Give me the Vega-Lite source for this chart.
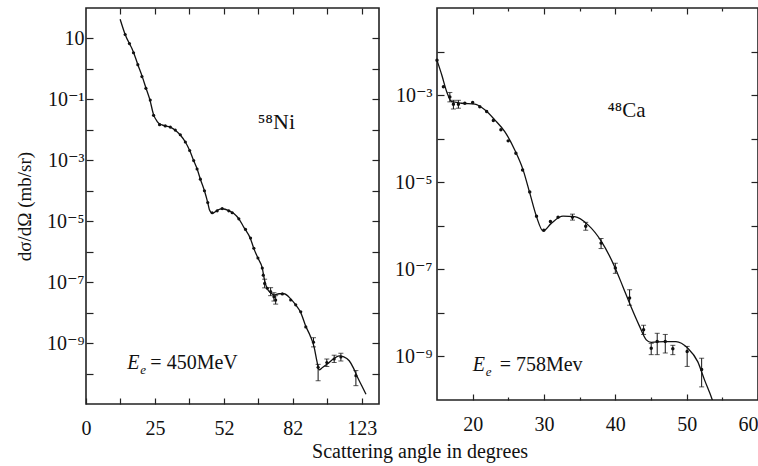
{
  "$schema": "https://vega.github.io/schema/vega-lite/v6.json",
  "background": "white",
  "padding": {"left": 14, "top": 6, "right": 0, "bottom": 2},
  "config": {
    "font": "Liberation Serif, Times New Roman, DejaVu Serif, serif",
    "view": {"stroke": "#222", "strokeWidth": 1.6},
    "axis": {"domain": false, "grid": false, "tickColor": "#222", "tickSize": -7, "tickWidth": 1.2,
      "labelFont": "Liberation Serif, Times New Roman, DejaVu Serif, serif", "labelFontSize": 20, "labelColor": "#111", "labelOverlap": false, "labelFlush": false,
      "titleFont": "Liberation Serif, Times New Roman, DejaVu Serif, serif", "titleFontSize": 19, "titleFontWeight": "normal", "titleColor": "#111"}
  },
  "title": {"text": "Scattering angle in degrees", "orient": "bottom", "anchor": "middle", "font": "Liberation Serif, Times New Roman, DejaVu Serif, serif", "fontSize": 20, "fontWeight": "normal", "color": "#111", "offset": 3, "dx": 33},
  "datasets": {
    "ni_curve": [
      {"q":0.495,"xs":42.7},{"q":0.568,"xs":13.5},{"q":0.689,"xs":3.55},{"q":0.752,"xs":1.38},{"q":0.811,"xs":0.603},
      {"q":0.869,"xs":0.24},{"q":0.925,"xs":0.1},{"q":0.98,"xs":0.0316},{"q":1.03,"xs":0.0191},{"q":1.102,"xs":0.0145},
      {"q":1.223,"xs":0.0123},{"q":1.295,"xs":0.00977},{"q":1.368,"xs":0.00676},{"q":1.441,"xs":0.00398},{"q":1.504,"xs":0.00209},
      {"q":1.562,"xs":9.77e-4},{"q":1.611,"xs":5.25e-4},{"q":1.659,"xs":2.4e-4},{"q":1.718,"xs":1.0e-4},{"q":1.766,"xs":4.07e-5},
      {"q":1.79,"xs":2.4e-5},{"q":1.835,"xs":1.82e-5},{"q":1.903,"xs":2.29e-5},{"q":1.975,"xs":2.57e-5},{"q":2.071,"xs":2.24e-5},
      {"q":2.144,"xs":1.78e-5},{"q":2.217,"xs":1.2e-5},{"q":2.29,"xs":6.31e-6},{"q":2.387,"xs":2.63e-6},{"q":2.435,"xs":1.26e-6},
      {"q":2.494,"xs":6.17e-7},{"q":2.557,"xs":2.88e-7},{"q":2.591,"xs":1.12e-7},{"q":2.63,"xs":6.03e-8},{"q":2.678,"xs":4.47e-8},
      {"q":2.726,"xs":3.8e-8},{"q":2.8,"xs":4.17e-8},{"q":2.872,"xs":4.17e-8},{"q":2.969,"xs":2.82e-8},{"q":3.042,"xs":1.78e-8},
      {"q":3.115,"xs":1.0e-8},{"q":3.188,"xs":3.55e-9},{"q":3.25,"xs":1.78e-9},{"q":3.309,"xs":7.41e-10},{"q":3.35,"xs":2.51e-10},
      {"q":3.381,"xs":1.32e-10},{"q":3.43,"xs":1.58e-10},{"q":3.504,"xs":2.09e-10},{"q":3.6,"xs":3.16e-10},{"q":3.672,"xs":3.8e-10},
      {"q":3.74,"xs":3.55e-10},{"q":3.818,"xs":2.63e-10},{"q":3.88,"xs":1.51e-10},{"q":3.94,"xs":7.41e-11},{"q":4.0,"xs":3.98e-11},
      {"q":4.061,"xs":2.09e-11}
    ],
    "ni_pts": [
      {"q":0.568,"xs":13.5},{"q":0.63,"xs":6.8},{"q":0.689,"xs":3.4},{"q":0.752,"xs":1.38},{"q":0.811,"xs":0.56},
      {"q":0.869,"xs":0.23},{"q":0.932,"xs":0.095},{"q":0.98,"xs":0.03},{"q":1.067,"xs":0.0148},{"q":1.15,"xs":0.0135},
      {"q":1.223,"xs":0.0123},{"q":1.295,"xs":0.0098},{"q":1.368,"xs":0.0069},{"q":1.441,"xs":0.004},{"q":1.504,"xs":0.0021},
      {"q":1.562,"xs":9.8e-4},{"q":1.611,"xs":5.2e-4},{"q":1.659,"xs":2.4e-4},{"q":1.718,"xs":1.0e-4},{"q":1.766,"xs":4.1e-5},
      {"q":1.83,"xs":1.9e-5},{"q":1.903,"xs":2.2e-5},{"q":1.975,"xs":2.6e-5},{"q":2.071,"xs":2.2e-5},{"q":2.121,"xs":1.9e-5},
      {"q":2.217,"xs":1.2e-5},{"q":2.314,"xs":5.4e-6},{"q":2.387,"xs":2.8e-6},{"q":2.435,"xs":1.3e-6},{"q":2.494,"xs":6.2e-7},
      {"q":2.557,"xs":2.9e-7},{"q":2.571,"xs":1.7e-7},{"q":2.591,"xs":9.1e-8},{"q":2.63,"xs":6.3e-8},{"q":2.678,"xs":4.9e-8},
      {"q":2.726,"xs":3.3e-8},{"q":2.751,"xs":2.6e-8},{"q":2.848,"xs":4.1e-8},{"q":2.969,"xs":2.6e-8},{"q":3.042,"xs":1.8e-8},
      {"q":3.115,"xs":1.07e-8},{"q":3.188,"xs":3.4e-9},{"q":3.3,"xs":1.07e-9},{"q":3.367,"xs":1.6e-10},{"q":3.493,"xs":2.3e-10},
      {"q":3.6,"xs":3.0e-10},{"q":3.697,"xs":3.5e-10},{"q":3.915,"xs":8.5e-11}
    ],
    "ni_err": [
      {"q":2.591,"lo":6.5e-8,"hi":1.25e-7},{"q":2.678,"lo":3.6e-8,"hi":6.6e-8},{"q":2.726,"lo":2.4e-8,"hi":4.5e-8},
      {"q":2.751,"lo":1.9e-8,"hi":3.6e-8},{"q":3.3,"lo":7.5e-10,"hi":1.5e-9},{"q":3.367,"lo":5.8e-11,"hi":2.0e-10},
      {"q":3.493,"lo":1.7e-10,"hi":3.0e-10},{"q":3.6,"lo":2.3e-10,"hi":4.0e-10},{"q":3.697,"lo":2.6e-10,"hi":4.6e-10},
      {"q":3.915,"lo":4.0e-11,"hi":1.25e-10}
    ],
    "ni_note": [{"q":2.49,"xs":0.0105,"label":"⁵⁸Ni"}],
    "ni_energy": [{"q":0.6,"xs":1.45e-10,"e":"E","sub":"e","rest":"= 450MeV"}],
    "ca_curve": [
      {"angle":15.0,"xs":6.3e-3},{"angle":15.67,"xs":2.9e-3},{"angle":16.36,"xs":1.2e-3},{"angle":17.06,"xs":7.1e-4},
      {"angle":17.8,"xs":6.8e-4},{"angle":18.46,"xs":6.5e-4},{"angle":20.3,"xs":6.2e-4},{"angle":21.7,"xs":4.6e-4},
      {"angle":23.1,"xs":2.7e-4},{"angle":24.5,"xs":1.45e-4},{"angle":25.9,"xs":5.5e-5},{"angle":27.08,"xs":1.9e-5},
      {"angle":28.01,"xs":5.6e-6},{"angle":28.95,"xs":1.62e-6},{"angle":29.87,"xs":7.6e-7},{"angle":31.05,"xs":1.15e-6},
      {"angle":32.67,"xs":1.66e-6},{"angle":34.3,"xs":1.62e-6},{"angle":36.17,"xs":1.05e-6},{"angle":38.04,"xs":4.4e-7},
      {"angle":39.9,"xs":1.15e-7},{"angle":41.06,"xs":4.0e-8},{"angle":42.2,"xs":1.38e-8},{"angle":43.4,"xs":4.9e-9},
      {"angle":44.34,"xs":2.4e-9},{"angle":45.03,"xs":2.1e-9},{"angle":46.9,"xs":2.2e-9},{"angle":48.5,"xs":2.2e-9},
      {"angle":50.15,"xs":1.55e-9},{"angle":51.55,"xs":7.6e-10},{"angle":52.5,"xs":2.9e-10},{"angle":53.6,"xs":1.0e-10},
      {"angle":54.0,"xs":6.0e-11}
    ],
    "ca_pts": [
      {"angle":15.0,"xs":6.3e-3},{"angle":15.9,"xs":1.55e-3},{"angle":16.8,"xs":9.1e-4},{"angle":17.3,"xs":6.2e-4},
      {"angle":18.0,"xs":6.2e-4},{"angle":18.9,"xs":6.5e-4},{"angle":20.0,"xs":6.8e-4},{"angle":21.0,"xs":5.4e-4},
      {"angle":21.96,"xs":4.2e-4},{"angle":22.9,"xs":2.6e-4},{"angle":23.96,"xs":1.6e-4},{"angle":24.98,"xs":8.9e-5},
      {"angle":26.06,"xs":4.6e-5},{"angle":27.0,"xs":1.9e-5},{"angle":28.0,"xs":6.0e-6},{"angle":28.95,"xs":1.66e-6},
      {"angle":29.97,"xs":7.9e-7},{"angle":30.9,"xs":1.26e-6},{"angle":31.97,"xs":1.58e-6},{"angle":33.99,"xs":1.58e-6},
      {"angle":35.85,"xs":9.8e-7},{"angle":38.0,"xs":4.0e-7},{"angle":40.0,"xs":1.07e-7},{"angle":42.0,"xs":2.2e-8},
      {"angle":43.96,"xs":4.1e-9},{"angle":45.03,"xs":1.55e-9},{"angle":45.87,"xs":2.2e-9},{"angle":47.0,"xs":2.2e-9},
      {"angle":48.06,"xs":1.5e-9},{"angle":50.07,"xs":1.3e-9},{"angle":52.1,"xs":5.0e-10}
    ],
    "ca_err": [
      {"angle":16.8,"lo":7.0e-4,"hi":1.15e-3},{"angle":17.3,"lo":4.8e-4,"hi":7.6e-4},{"angle":18.0,"lo":5.0e-4,"hi":7.6e-4},
      {"angle":33.99,"lo":1.35e-6,"hi":1.85e-6},{"angle":35.85,"lo":7.9e-7,"hi":1.2e-6},{"angle":38.0,"lo":3.0e-7,"hi":5.1e-7},
      {"angle":40.0,"lo":8.1e-8,"hi":1.38e-7},{"angle":42.0,"lo":1.5e-8,"hi":3.4e-8},{"angle":43.96,"lo":3.2e-9,"hi":5.2e-9},
      {"angle":45.03,"lo":1.1e-9,"hi":2.0e-9},{"angle":45.87,"lo":1.1e-9,"hi":3.4e-9},{"angle":47.0,"lo":1.2e-9,"hi":3.2e-9},
      {"angle":48.06,"lo":1.1e-9,"hi":1.8e-9},{"angle":50.07,"lo":5.9e-10,"hi":1.7e-9},{"angle":52.1,"lo":2.0e-10,"hi":9.1e-10}
    ],
    "ca_note": [{"angle":38.9,"xs":3.2e-4,"label":"⁴⁸Ca"}],
    "ca_energy": [{"angle":20.0,"xs":4.6e-10,"e":"E","sub":"e","rest":"= 758Mev"}]
  },
  "spacing": 12,
  "hconcat": [
    {
      "width": 293,
      "height": 396,
      "layer": [
        {
          "data": {"name": "ni_curve"},
          "mark": {"type": "line", "interpolate": "monotone", "color": "#111", "strokeWidth": 1.3, "clip": true},
          "encoding": {
            "x": {"field": "q", "type": "quantitative", "scale": {"domain": [0, 4.25], "nice": false, "zero": false},
              "axis": {"orient": "bottom", "title": null, "values": [0, 0.5, 1, 1.5, 2, 2.5, 3, 3.5, 4], "labelPadding": 20, "tickSize": -6,
                "labelExpr": "datum.value == 0 ? '0' : datum.value == 1 ? '25' : datum.value == 2 ? '52' : datum.value == 3 ? '82' : datum.value == 4 ? '123' : ''"}},
            "y": {"field": "xs", "type": "quantitative", "scale": {"type": "log", "domain": [1e-11, 100], "nice": false},
              "axis": {"orient": "left", "title": "dσ/dΩ (mb/sr)", "titlePadding": 12,
                "values": [1e-10, 1e-9, 1e-8, 1e-7, 1e-6, 1e-5, 1e-4, 1e-3, 1e-2, 1e-1, 1, 10], "labelPadding": 9,
                "labelExpr": "['', '', '10⁻⁹', '', '10⁻⁷', '', '10⁻⁵', '', '10⁻³', '', '10⁻¹', '', '10\u2002', ''][round(log(datum.value) / LN10) + 11]"}}
          }
        },
        {
          "data": {"name": "ni_pts"},
          "mark": {"type": "point", "filled": true, "size": 10, "color": "#111", "opacity": 1},
          "encoding": {
            "x": {"field": "q", "type": "quantitative", "axis": {"orient": "top", "title": null, "labels": false, "tickSize": -6, "values": [0.5, 1, 1.5, 2, 2.5, 3, 3.5, 4]}},
            "y": {"field": "xs", "type": "quantitative", "axis": {"orient": "right", "title": null, "labels": false,
              "values": [1e-10, 1e-9, 1e-8, 1e-7, 1e-6, 1e-5, 1e-4, 1e-3, 1e-2, 1e-1, 1, 10]}}
          }
        },
        {
          "data": {"name": "ni_err"},
          "mark": {"type": "errorbar", "ticks": true, "color": "#111"},
          "encoding": {
            "x": {"field": "q", "type": "quantitative", "axis": null},
            "y": {"field": "lo", "type": "quantitative", "axis": null},
            "y2": {"field": "hi"}
          }
        },
        {
          "data": {"name": "ni_note"},
          "mark": {"type": "text", "align": "left", "baseline": "alphabetic", "fontSize": 22, "color": "#111"},
          "encoding": {
            "x": {"field": "q", "type": "quantitative", "axis": null},
            "y": {"field": "xs", "type": "quantitative", "axis": null},
            "text": {"field": "label"}
          }
        },
        {
          "data": {"name": "ni_energy"},
          "mark": {"type": "text", "align": "left", "baseline": "alphabetic", "fontSize": 20, "fontStyle": "italic", "color": "#111"},
          "encoding": {
            "x": {"field": "q", "type": "quantitative", "axis": null},
            "y": {"field": "xs", "type": "quantitative", "axis": null},
            "text": {"field": "e"}
          }
        },
        {
          "data": {"name": "ni_energy"},
          "mark": {"type": "text", "align": "left", "baseline": "alphabetic", "fontSize": 13, "fontStyle": "italic", "color": "#111", "dx": 13, "dy": 5},
          "encoding": {
            "x": {"field": "q", "type": "quantitative", "axis": null},
            "y": {"field": "xs", "type": "quantitative", "axis": null},
            "text": {"field": "sub"}
          }
        },
        {
          "data": {"name": "ni_energy"},
          "mark": {"type": "text", "align": "left", "baseline": "alphabetic", "fontSize": 20, "color": "#111", "dx": 23},
          "encoding": {
            "x": {"field": "q", "type": "quantitative", "axis": null},
            "y": {"field": "xs", "type": "quantitative", "axis": null},
            "text": {"field": "rest"}
          }
        }
      ],
      "resolve": {"axis": {"x": "independent", "y": "independent"}}
    },
    {
      "width": 321,
      "height": 392,
      "layer": [
        {
          "data": {"name": "ca_curve"},
          "mark": {"type": "line", "interpolate": "monotone", "color": "#111", "strokeWidth": 1.3, "clip": true},
          "encoding": {
            "x": {"field": "angle", "type": "quantitative", "scale": {"domain": [15, 60], "nice": false, "zero": false},
              "axis": {"orient": "bottom", "title": null, "values": [20, 25, 30, 35, 40, 45, 50, 55, 60], "labelPadding": 20,
                "tickSize": {"condition": {"test": "datum.value % 10 == 0", "value": -6}, "value": -3},
                "labelFlush": true, "labelFlushOffset": 0,
                "labelExpr": "datum.value % 10 == 0 ? datum.label : ''"}},
            "y": {"field": "xs", "type": "quantitative", "scale": {"type": "log", "domain": [1e-10, 0.1], "nice": false},
              "axis": {"orient": "left", "title": null,
                "values": [1e-9, 1e-8, 1e-7, 1e-6, 1e-5, 1e-4, 1e-3, 1e-2], "labelPadding": 12,
                "labelExpr": "['', '10⁻⁹', '', '10⁻⁷', '', '10⁻⁵', '', '10⁻³', '', ''][round(log(datum.value) / LN10) + 10]"}}
          }
        },
        {
          "data": {"name": "ca_pts"},
          "mark": {"type": "point", "filled": true, "size": 12, "color": "#111", "opacity": 1},
          "encoding": {
            "x": {"field": "angle", "type": "quantitative", "axis": {"orient": "top", "title": null, "labels": false,
              "tickSize": {"condition": {"test": "datum.value % 10 == 0", "value": -6}, "value": -3},
              "values": [20, 25, 30, 35, 40, 45, 50, 55]}},
            "y": {"field": "xs", "type": "quantitative", "axis": {"orient": "right", "title": null, "labels": false,
              "values": [1e-9, 1e-8, 1e-7, 1e-6, 1e-5, 1e-4, 1e-3, 1e-2]}}
          }
        },
        {
          "data": {"name": "ca_err"},
          "mark": {"type": "errorbar", "ticks": true, "color": "#111"},
          "encoding": {
            "x": {"field": "angle", "type": "quantitative", "axis": null},
            "y": {"field": "lo", "type": "quantitative", "axis": null},
            "y2": {"field": "hi"}
          }
        },
        {
          "data": {"name": "ca_note"},
          "mark": {"type": "text", "align": "left", "baseline": "alphabetic", "fontSize": 21, "color": "#111"},
          "encoding": {
            "x": {"field": "angle", "type": "quantitative", "axis": null},
            "y": {"field": "xs", "type": "quantitative", "axis": null},
            "text": {"field": "label"}
          }
        },
        {
          "data": {"name": "ca_energy"},
          "mark": {"type": "text", "align": "left", "baseline": "alphabetic", "fontSize": 20, "fontStyle": "italic", "color": "#111"},
          "encoding": {
            "x": {"field": "angle", "type": "quantitative", "axis": null},
            "y": {"field": "xs", "type": "quantitative", "axis": null},
            "text": {"field": "e"}
          }
        },
        {
          "data": {"name": "ca_energy"},
          "mark": {"type": "text", "align": "left", "baseline": "alphabetic", "fontSize": 13, "fontStyle": "italic", "color": "#111", "dx": 13, "dy": 5},
          "encoding": {
            "x": {"field": "angle", "type": "quantitative", "axis": null},
            "y": {"field": "xs", "type": "quantitative", "axis": null},
            "text": {"field": "sub"}
          }
        },
        {
          "data": {"name": "ca_energy"},
          "mark": {"type": "text", "align": "left", "baseline": "alphabetic", "fontSize": 20, "color": "#111", "dx": 27},
          "encoding": {
            "x": {"field": "angle", "type": "quantitative", "axis": null},
            "y": {"field": "xs", "type": "quantitative", "axis": null},
            "text": {"field": "rest"}
          }
        }
      ],
      "resolve": {"axis": {"x": "independent", "y": "independent"}}
    }
  ]
}
